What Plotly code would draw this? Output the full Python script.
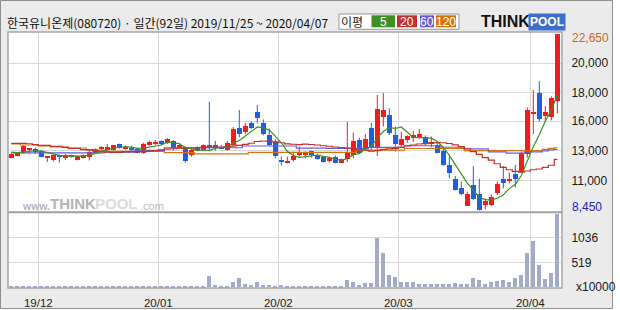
import plotly.graph_objects as go

# ---------------- data ----------------
title_text = "한국유니온제(080720) · 일간(92일) 2019/11/25 ~ 2020/04/07"

open_prices = [12700, 12860, 13050, 13360, 13420, 13260, 12690, 12510, 12870, 12670,
               12860, 12540, 12670, 12750, 13100, 13400, 13340, 13350, 13770, 13450,
               13460, 13430, 13080, 13720, 13830, 14040, 13890, 14040, 13470, 13570,
               12930, 13530, 13290, 13700, 13690, 13590, 13330, 13720, 15090, 14790,
               15500, 16390, 15480, 14520, 13980, 12480, 12300, 12510, 12890, 12920,
               13220, 12930, 12780, 12440, 12780, 12300, 12610, 12910, 14120, 13390,
               15070, 13590, 16000, 16130, 14520, 13720, 14090, 14280, 14360, 14340,
               13800, 13720, 13230, 12110, 11010, 10290, 8850, 10500, 9760, 8860,
               8890, 9830, 10970, 10900, 11370, 11570, 13000, 16290, 17930, 16050,
               16000, 17290]
high_prices = [13050, 13150, 13700, 13480, 13500, 13320, 12830, 12970, 12940, 12990,
               12940, 12890, 12940, 13340, 13450, 13610, 13800, 13720, 13830, 13690,
               13660, 13500, 13900, 14070, 14120, 14100, 14280, 14100, 13770, 13610,
               13480, 13610, 13770, 17210, 14040, 13720, 14040, 15160, 16530, 15500,
               15620, 16940, 15780, 15050, 14190, 12800, 12780, 13170, 13610, 13210,
               13260, 13000, 12830, 12780, 12880, 12620, 15580, 14710, 14310, 14600,
               15490, 17740, 17900, 16670, 15200, 14790, 14500, 14850, 15010, 14500,
               14400, 13990, 13450, 12830, 11220, 10770, 9960, 12040, 11000, 9420,
               9750, 10770, 12030, 11500, 12110, 13180, 16750, 18140, 18870, 16850,
               17640, 22650]
low_prices = [12650, 12800, 13000, 13050, 13020, 12730, 12350, 12400, 12300, 12510,
              12700, 12480, 12620, 12480, 13050, 13340, 13260, 13290, 13420, 13340,
              13240, 13050, 13000, 13660, 13720, 13720, 13800, 13260, 13420, 12300,
              12780, 13260, 13260, 13260, 13260, 13400, 13260, 13650, 14340, 14600,
              15000, 15460, 14500, 13650, 12650, 12060, 12240, 12380, 12810, 12650,
              12700, 12540, 12300, 12330, 12250, 12280, 12360, 12650, 12990, 13320,
              13320, 12830, 15200, 14520, 13200, 13580, 13900, 13990, 14250, 13650,
              13530, 13050, 12050, 11040, 10050, 9700, 8840, 9300, 8450, 8540,
              8800, 9700, 10230, 10630, 10300, 11500, 12700, 14600, 15600, 15600,
              15700, 16270]
close_prices = [13000, 13100, 13640, 13440, 13180, 12780, 12770, 12890, 12790, 12890,
                12760, 12830, 12890, 13170, 13410, 13560, 13570, 13680, 13500, 13590,
                13380, 13100, 13790, 13970, 13990, 13770, 14220, 13440, 13720, 12460,
                13330, 13370, 13700, 13480, 13480, 13450, 13880, 15000, 14600, 15250,
                15100, 15920, 14630, 13720, 12840, 12400, 12460, 12850, 13090, 13110,
                12880, 12610, 12380, 12690, 12300, 12580, 13100, 14040, 13100, 14190,
                13590, 16600, 16530, 14710, 13830, 14170, 14450, 14500, 14600, 13800,
                14000, 13080, 12140, 11440, 10100, 9800, 9760, 9360, 8490, 9230,
                9560, 10580, 10690, 10990, 10980, 13050, 16540, 16380, 15790, 16400,
                17520, 22650]
volume_10k = [20, 18, 28, 22, 18, 24, 20, 17, 22, 16,
              15, 17, 16, 26, 22, 18, 20, 24, 19, 16,
              15, 17, 28, 22, 19, 17, 21, 23, 18, 30,
              24, 17, 21, 236, 50, 30, 30, 115, 195, 65,
              50, 110, 50, 50, 30, 50, 26, 30, 28, 25,
              30, 27, 29, 31, 28, 30, 153, 112, 50, 91,
              91, 1025, 715, 257, 212, 112, 98, 108, 70, 70,
              65, 55, 65, 55, 91, 55, 60, 194, 153, 65,
              115, 135, 153, 115, 190, 257, 715, 960, 464, 174,
              300, 1519]
ma5 = [13150, 13100, 13150, 13230, 13270, 13230, 13150, 13010, 12880, 12820,
       12820, 12830, 12830, 12900, 13010, 13170, 13320, 13480, 13540, 13580,
       13550, 13450, 13470, 13570, 13650, 13720, 13950, 13880, 13830, 13520,
       13430, 13260, 13320, 13270, 13470, 13500, 13600, 13860, 14080, 14440,
       14770, 15170, 15100, 14920, 14440, 13900, 13210, 12860, 12730, 12790,
       12880, 12910, 12810, 12730, 12570, 12510, 12610, 12940, 13020, 13400,
       13600, 14300, 14800, 15120, 15050, 15170, 14740, 14330, 14310, 14300,
       14270, 14000, 13520, 12890, 12150, 11310, 10650, 10090, 9500, 9330,
       9280, 9440, 9710, 10210, 10560, 11260, 12450, 13580, 14540, 15630,
       16520, 17740]
ma20 = [13850, 13850, 13850, 13820, 13750, 13690, 13690, 13610, 13610, 13530,
        13450, 13450, 13350, 13340, 13250, 13200, 13150, 13120, 13130, 13170,
        13190, 13190, 13200, 13230, 13270, 13320, 13390, 13420, 13460, 13440,
        13470, 13500, 13540, 13550, 13560, 13550, 13570, 13630, 13690, 13770,
        13860, 14000, 14040, 14030, 13970, 13900, 13810, 13780, 13750, 13790,
        13760, 13720, 13660, 13620, 13560, 13520, 13480, 13430, 13350, 13300,
        13230, 13260, 13360, 13400, 13450, 13540, 13640, 13720, 13800, 13830,
        13890, 13910, 13900, 13840, 13730, 13590, 13420, 13190, 12960, 12710,
        12510, 12210, 11920, 11730, 11590, 11530, 11630, 11730, 11790, 11920,
        12090, 12570]
ma60 = [13080, 13080, 13080, 13080, 13080, 13080, 13080, 13080, 13080, 13080,
        13080, 13080, 13080, 13080, 13080, 13080, 13150, 13150, 13150, 13150,
        13150, 13280, 13280, 13280, 13280, 13280, 13500, 13500, 13500, 13500,
        13500, 13500, 13500, 13500, 13500, 13500, 13500, 13500, 13500, 13640,
        13640, 13640, 13640, 13640, 13640, 13640, 13640, 13640, 13470, 13470,
        13470, 13470, 13470, 13450, 13450, 13450, 13450, 13450, 13450, 13450,
        13530, 13530, 13530, 13530, 13530, 13530, 13660, 13660, 13660, 13660,
        13660, 13660, 13540, 13540, 13540, 13540, 13400, 13400, 13400, 13400,
        13170, 13170, 13170, 13060, 13060, 13060, 13160, 13160, 13160, 13250,
        13320, 13370]
ma120 = [13800, 13800, 13720, 13720, 13720, 13640, 13640, 13560, 13560, 13560,
         13480, 13480, 13480, 13300, 13300, 13300, 13200, 13200, 13200, 13200,
         13200, 13200, 13200, 13200, 13200, 13200, 13100, 13100, 13100, 13100,
         13100, 13000, 13000, 13000, 13000, 13000, 13000, 13000, 13000, 13000,
         13130, 13130, 13130, 13130, 13130, 13130, 13130, 13130, 13130, 13130,
         13130, 13130, 13130, 13130, 13130, 13130, 13130, 13130, 13300, 13300,
         13300, 13300, 13300, 13300, 13300, 13300, 13440, 13440, 13440, 13440,
         13440, 13440, 13440, 13440, 13440, 13440, 13260, 13260, 13260, 13260,
         13260, 13260, 13260, 13260, 13260, 13260, 13260, 13260, 13260, 13370,
         13450, 13500]

month_labels = ["19/12", "20/01", "20/02", "20/03", "20/04"]
month_first_index = [5, 25, 45, 65, 87]
price_tick_values = [20293, 17959, 15650, 13261, 10880]
price_tick_labels = ["20,000", "18,000", "16,000", "13,000", "11,000"]
price_max_label = "22,650"
price_min_label = "8,450"
price_max_value = 22650
price_min_value = 8450
volume_tick_values = [519, 1036]
volume_tick_labels = ["519", "1036"]
volume_unit_label = "x10000"
ma_names = ["5", "20", "60", "120"]

# ---------------- style ----------------
UP = "#f21c1c"
DOWN = "#1f5fe0"
VOL = "#a3abc6"
MA_COLORS = ["#3f8f22", "#c4302b", "#6a5cd8", "#d9730f"]
GRID = "#d9d9d9"
BG = "#ebebeb"
NUM_FONT = "Liberation Sans, Arial, sans-serif"
KR_FONT = "Noto Sans CJK KR, sans-serif"

W, H = 620, 310
PL, PR, PT, PB = 8, 562, 32, 288


def fx(px):
    return (px - PL) / (PR - PL)


def fy(py):
    return (PB - py) / (PB - PT)


vol_frac = fy(212.3)
n = len(close_prices)
idx = list(range(n))

fig = go.Figure()

# wicks
for is_up, color in ((True, UP), (False, DOWN)):
    xs, ys = [], []
    for i in idx:
        if (close_prices[i] >= open_prices[i]) == is_up:
            xs += [i, i, None]
            ys += [low_prices[i], high_prices[i], None]
    fig.add_trace(go.Scatter(x=xs, y=ys, mode="lines", line=dict(color=color, width=1),
                             hoverinfo="skip", xaxis="x", yaxis="y"))

# bodies
for is_up, color in ((True, UP), (False, DOWN)):
    sel = [i for i in idx if (close_prices[i] >= open_prices[i]) == is_up]
    fig.add_trace(go.Bar(
        x=sel,
        y=[abs(close_prices[i] - open_prices[i]) for i in sel],
        base=[min(open_prices[i], close_prices[i]) for i in sel],
        width=0.8, marker=dict(color=color, line=dict(width=0)),
        xaxis="x", yaxis="y", hoverinfo="skip"))

# moving averages
for vals, color, shape in ((ma120, MA_COLORS[3], "hvh"), (ma60, MA_COLORS[2], "hvh"),
                           (ma20, MA_COLORS[1], "hvh"), (ma5, MA_COLORS[0], "linear")):
    fig.add_trace(go.Scatter(x=idx, y=vals, mode="lines",
                             line=dict(color=color, width=1.2, shape=shape),
                             xaxis="x", yaxis="y", hoverinfo="skip"))

# volume
fig.add_trace(go.Bar(x=idx, y=volume_10k, width=0.72, marker=dict(color=VOL, line=dict(width=0)),
                     xaxis="x", yaxis="y2", hoverinfo="skip"))

x_lo = (PL - 11.3) / 6.0
x_hi = (PR - 11.3) / 6.0
p_top = 25385 - 80.45 * PT
p_bot = 25385 - 80.45 * 212.3
v_top = (287.4 - 212.3) * 20.7
v_bot = (287.4 - PB) * 20.7

fig.update_layout(
    width=W, height=H, margin=dict(l=PL, r=W - PR, t=PT, b=H - PB, autoexpand=False),
    paper_bgcolor=BG, plot_bgcolor="white", showlegend=False,
    barmode="overlay", bargap=0, hovermode=False,
    xaxis=dict(range=[x_lo, x_hi], anchor="y2", automargin=False,
               tickvals=[i - 0.5 for i in month_first_index], ticktext=month_labels,
               showgrid=True, gridcolor=GRID, gridwidth=1, zeroline=False, showline=False,
               ticks="outside", ticklen=4, tickcolor="rgba(0,0,0,0)",
               tickfont=dict(family=NUM_FONT, size=11.5, color="#222")),
    yaxis=dict(domain=[vol_frac, 1], range=[p_bot, p_top], side="right", anchor="x", automargin=False,
               tickvals=price_tick_values, ticktext=price_tick_labels,
               showgrid=True, gridcolor=GRID, gridwidth=1, zeroline=False, showline=False,
               ticks="outside", ticklen=6, tickcolor="rgba(0,0,0,0)",
               tickfont=dict(family=NUM_FONT, size=12, color="#1a1a1a")),
    yaxis2=dict(domain=[0, vol_frac], range=[v_bot, v_top], side="right", anchor="x", automargin=False,
                tickvals=volume_tick_values, ticktext=volume_tick_labels,
                showgrid=True, gridcolor=GRID, gridwidth=1, zeroline=False, showline=False,
                ticks="outside", ticklen=6, tickcolor="rgba(0,0,0,0)",
                tickfont=dict(family=NUM_FONT, size=12, color="#1a1a1a")),
)

shapes = []
# white outside frame
shapes.append(dict(type="rect", xref="paper", yref="paper", x0=fx(613), x1=fx(621), y0=fy(-1), y1=fy(311),
                   fillcolor="white", line=dict(width=0), layer="below"))
shapes.append(dict(type="rect", xref="paper", yref="paper", x0=fx(-1), x1=fx(621), y0=fy(309), y1=fy(311),
                   fillcolor="white", line=dict(width=0), layer="below"))
# outer frame
shapes.append(dict(type="rect", xref="paper", yref="paper", x0=fx(0.5), x1=fx(612.5), y0=fy(308.5), y1=fy(0.5),
                   line=dict(color="#8e8e8e", width=1)))
# plot border and separator
shapes.append(dict(type="rect", xref="paper", yref="paper", x0=0, x1=1, y0=0, y1=1,
                   line=dict(color="#a6a6a6", width=1.5)))
shapes.append(dict(type="line", xref="paper", yref="paper", x0=0, x1=1, y0=vol_frac, y1=vol_frac,
                   line=dict(color="#a0a0a0", width=2)))
# MA legend box
shapes.append(dict(type="rect", xref="paper", yref="paper", x0=fx(339), x1=fx(459), y0=fy(29.3), y1=fy(14),
                   fillcolor="white", line=dict(color="#959595", width=1)))
box_px = [(371.5, 395), (397, 417), (420, 434), (436, 456)]
annotations = []
for (a, b), c, name in zip(box_px, MA_COLORS, ma_names):
    shapes.append(dict(type="rect", xref="paper", yref="paper", x0=fx(a), x1=fx(b), y0=fy(27.3), y1=fy(15.3),
                       fillcolor=c, line=dict(width=0)))
    annotations.append(dict(xref="paper", yref="paper", x=fx((a + b) / 2), y=fy(21.5), text=name,
                            showarrow=False, font=dict(family=NUM_FONT, size=12, color="white"),
                            xanchor="center", yanchor="middle"))
annotations.append(dict(xref="paper", yref="paper", x=fx(351.5), y=fy(21.5), text="이평", showarrow=False,
                        font=dict(family=KR_FONT, size=12, color="#222"), xanchor="center", yanchor="middle"))
# title
annotations.append(dict(xref="paper", yref="paper", x=fx(5), y=fy(22.5), text=title_text, showarrow=False,
                        font=dict(family=KR_FONT, size=12, color="#111"), xanchor="left", yanchor="middle"))
# logo
annotations.append(dict(xref="paper", yref="paper", x=fx(479), y=fy(21.5), text="<b>THINK</b>", showarrow=False,
                        font=dict(family=NUM_FONT, size=16, color="#111"), xanchor="left", yanchor="middle"))
annotations.append(dict(xref="paper", yref="paper", x=fx(546.5), y=fy(21.5), text="<b>POOL</b>", showarrow=False,
                        font=dict(family=NUM_FONT, size=12, color="white"), bgcolor="#3d6fce", borderpad=1,
                        xanchor="center", yanchor="middle"))
# watermark
annotations.append(dict(xref="paper", yref="paper", x=fx(21), y=fy(206), text="<b>www.</b>", showarrow=False,
                        font=dict(family=NUM_FONT, size=10.5, color="#b8b8b8"), xanchor="left", yanchor="middle",
                        borderpad=0))
annotations.append(dict(xref="paper", yref="paper", x=fx(48.5), y=fy(203.5), text="<b>THINK</b>", showarrow=False,
                        font=dict(family=NUM_FONT, size=15, color="#b3b3b3"), xanchor="left", yanchor="middle",
                        borderpad=0))
annotations.append(dict(xref="paper", yref="paper", x=fx(94), y=fy(203.5), text="<b>POOL</b>", showarrow=False,
                        font=dict(family=NUM_FONT, size=15, color="#dcdcdc"), xanchor="left", yanchor="middle",
                        borderpad=0))
annotations.append(dict(xref="paper", yref="paper", x=fx(139), y=fy(206), text=".com", showarrow=False,
                        font=dict(family=NUM_FONT, size=11, color="#b8b8b8"), xanchor="left", yanchor="middle",
                        borderpad=0))
# max / min price labels, volume unit
annotations.append(dict(xref="paper", yref="y", x=fx(569.5), y=price_max_value, yshift=-4.3, text=price_max_label,
                        showarrow=False, font=dict(family=NUM_FONT, size=12, color="#cc6a1c"),
                        xanchor="left", yanchor="middle"))
annotations.append(dict(xref="paper", yref="y", x=fx(569.5), y=price_min_value, yshift=3.8, text=price_min_label,
                        showarrow=False, font=dict(family=NUM_FONT, size=12, color="#1f22b8"),
                        xanchor="left", yanchor="middle"))
annotations.append(dict(xref="paper", yref="paper", x=fx(573.5), y=fy(286.7), text=volume_unit_label,
                        showarrow=False, font=dict(family=NUM_FONT, size=12, color="#1a1a1a"),
                        xanchor="left", yanchor="middle"))

fig.update_layout(shapes=shapes, annotations=annotations)
fig.write_html("out.html")
